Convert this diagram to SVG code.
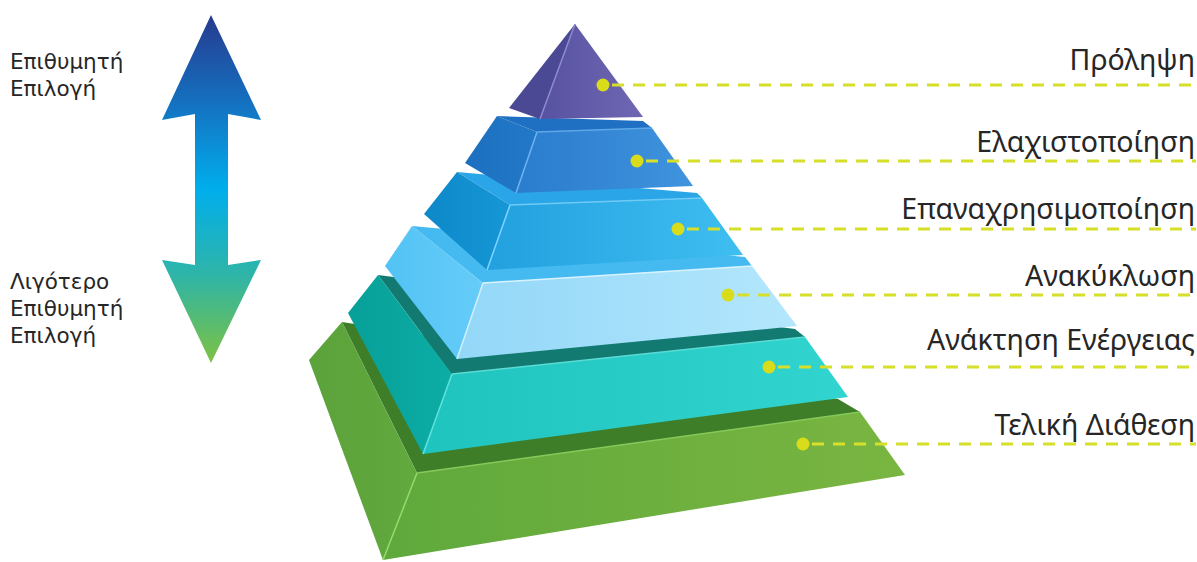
<svg xmlns="http://www.w3.org/2000/svg" width="1197" height="562" viewBox="0 0 1197 562">
<defs>
<style>
.lbl{font-family:"Noto Sans","DejaVu Sans",sans-serif;font-size:28.5px;fill:#262626;text-anchor:end}
.side{font-family:"DejaVu Sans","Noto Sans",sans-serif;font-size:21.5px;fill:#262626}
.dash{stroke:#d6df2a;stroke-width:3;stroke-dasharray:12 9;fill:none}
.dot{fill:#d8dc1a}
.ridge{stroke-width:1.5;fill:none}
</style>
<linearGradient id="arrowG" x1="0" y1="15" x2="0" y2="363" gradientUnits="userSpaceOnUse">
<stop offset="0" stop-color="#263a8e"/>
<stop offset="0.25" stop-color="#1570c0"/>
<stop offset="0.5" stop-color="#00aeec"/>
<stop offset="0.75" stop-color="#2fb5a6"/>
<stop offset="1" stop-color="#7dc242"/>
</linearGradient>
<linearGradient id="f1" x1="0" y1="0" x2="1" y2="0"><stop offset="0" stop-color="#5752a0"/><stop offset="1" stop-color="#6e67b4"/></linearGradient>
<linearGradient id="f2" x1="0" y1="0" x2="1" y2="0"><stop offset="0" stop-color="#2a7ccd"/><stop offset="1" stop-color="#4093dd"/></linearGradient>
<linearGradient id="f3" x1="0" y1="0" x2="1" y2="0"><stop offset="0" stop-color="#22a0df"/><stop offset="1" stop-color="#3fbef1"/></linearGradient>
<linearGradient id="f4" x1="0" y1="0" x2="1" y2="0"><stop offset="0" stop-color="#93d7f8"/><stop offset="1" stop-color="#b4e7fc"/></linearGradient>
<linearGradient id="f5" x1="0" y1="0" x2="1" y2="0"><stop offset="0" stop-color="#20c4be"/><stop offset="1" stop-color="#31d4ce"/></linearGradient>
<linearGradient id="f6" x1="0" y1="0" x2="1" y2="0"><stop offset="0" stop-color="#5fa93c"/><stop offset="1" stop-color="#7ab541"/></linearGradient>
<linearGradient id="l2" x1="0" y1="0" x2="1" y2="0"><stop offset="0" stop-color="#1b6fbe"/><stop offset="1" stop-color="#2379c8"/></linearGradient>
<linearGradient id="l3" x1="0" y1="0" x2="1" y2="0"><stop offset="0" stop-color="#0d88c9"/><stop offset="1" stop-color="#1697d6"/></linearGradient>
<linearGradient id="l4" x1="0" y1="0" x2="1" y2="0"><stop offset="0" stop-color="#52c3f5"/><stop offset="1" stop-color="#66ccf8"/></linearGradient>
<linearGradient id="l5" x1="0" y1="0" x2="1" y2="0"><stop offset="0" stop-color="#07a098"/><stop offset="1" stop-color="#0cada5"/></linearGradient>
<linearGradient id="l6" x1="0" y1="0" x2="1" y2="0"><stop offset="0" stop-color="#5aa23a"/><stop offset="1" stop-color="#62aa3e"/></linearGradient>
</defs>

<g id="arrow">
<polygon points="211,15 261,120 228,114 228,265 261,260 211,363 162,260 195,265 195,114 162,120" fill="url(#arrowG)"/>
</g>
<g id="side-labels">
<text class="side" x="10" y="69">Επιθυμητή</text>
<text class="side" x="10" y="96">Επιλογή</text>
<text class="side" x="10" y="289">Λιγότερο</text>
<text class="side" x="10" y="316">Επιθυμητή</text>
<text class="side" x="10" y="343">Επιλογή</text>
</g>

<g id="tier6">
<polygon points="342,322 838,399 860,412 417,473" fill="#3e7e29"/>
<polygon points="342,322 309,360 383,560 417,473" fill="url(#l6)"/>
<polygon points="417,473 860,412 905,475 383,560" fill="url(#f6)"/>
<line class="ridge" x1="417" y1="473" x2="383" y2="560" stroke="#93dc6a"/>
<line class="ridge" x1="417" y1="473" x2="860" y2="412" stroke="#86c95a" stroke-width="1"/>
<text class="lbl" x="1195" y="435">Τελική Διάθεση</text>
</g>
<g id="tier5">
<polygon points="378,275 795,329 805,337 452,374" fill="#127a71"/>
<polygon points="378,275 348,313 423,454 452,374" fill="url(#l5)"/>
<polygon points="452,374 805,337 848,397 423,454" fill="url(#f5)"/>
<line class="ridge" x1="452" y1="374" x2="423" y2="454" stroke="#5fe3dc"/>
<line class="ridge" x1="452" y1="374" x2="805" y2="337" stroke="#5adbd5" stroke-width="1"/>
<text class="lbl" x="1195" y="350">Ανάκτηση Ενέργειας</text>
</g>
<g id="tier4">
<polygon points="412,226 745,257 752,266 483,283" fill="#44baf0"/>
<polygon points="412,226 385,266 457,359 483,283" fill="url(#l4)"/>
<polygon points="483,283 752,266 797,326 457,359" fill="url(#f4)"/>
<line class="ridge" x1="483" y1="283" x2="457" y2="359" stroke="#d2f1ff"/>
<line class="ridge" x1="483" y1="283" x2="752" y2="266" stroke="#d8f3ff" stroke-width="1"/>
<text class="lbl" x="1195" y="286">Ανακύκλωση</text>
</g>
<g id="tier3">
<polygon points="457,172 697,193 702,198 510,205" fill="#2aa5e8"/>
<polygon points="457,172 424,214 487,270 510,205" fill="url(#l3)"/>
<polygon points="510,205 702,198 743,255 487,270" fill="url(#f3)"/>
<line class="ridge" x1="510" y1="205" x2="487" y2="270" stroke="#7fd4ff"/>
<line class="ridge" x1="510" y1="205" x2="702" y2="198" stroke="#6fcaf5" stroke-width="1"/>
<text class="lbl" x="1195" y="219">Επαναχρησιμοποίηση</text>
</g>
<g id="tier2">
<polygon points="497,116 643,121 652,128 537,132" fill="#1f6fc2"/>
<polygon points="497,116 465,163 516,193 537,132" fill="url(#l2)"/>
<polygon points="537,132 652,128 693,186 516,193" fill="url(#f2)"/>
<line class="ridge" x1="537" y1="132" x2="516" y2="193" stroke="#6db4f2"/>
<line class="ridge" x1="537" y1="132" x2="652" y2="128" stroke="#5ea6e8" stroke-width="1"/>
<text class="lbl" x="1195" y="152">Ελαχιστοποίηση</text>
</g>
<g id="tier1">
<polygon points="575,24 509,108 540,119" fill="#4b4994"/>
<polygon points="575,24 540,119 643,117" fill="url(#f1)"/>
<line class="ridge" x1="575" y1="24" x2="540" y2="119" stroke="#8f8ad0"/>
<text class="lbl" x="1195" y="70">Πρόληψη</text>
</g>

<g id="connectors">
<line class="dash" x1="612" y1="85" x2="1196" y2="85"/>
<line class="dash" x1="646" y1="161" x2="1196" y2="161"/>
<line class="dash" x1="687" y1="229" x2="1196" y2="229"/>
<line class="dash" x1="737" y1="295" x2="1196" y2="295"/>
<line class="dash" x1="778" y1="367" x2="1196" y2="367"/>
<line class="dash" x1="812" y1="444" x2="1196" y2="444"/>
<circle class="dot" cx="603" cy="85" r="6.5"/>
<circle class="dot" cx="637" cy="161" r="6.5"/>
<circle class="dot" cx="678" cy="229" r="6.5"/>
<circle class="dot" cx="728" cy="295" r="6.5"/>
<circle class="dot" cx="769" cy="367" r="6.5"/>
<circle class="dot" cx="803" cy="444" r="6.5"/>
</g>
</svg>
